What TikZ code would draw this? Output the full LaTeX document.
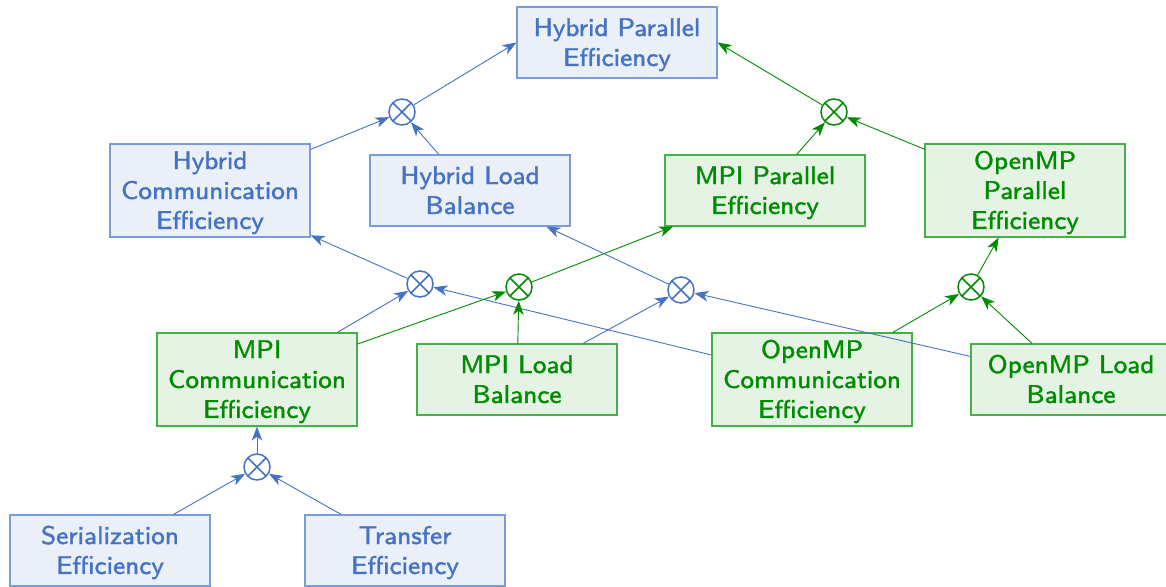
\documentclass[tikz,border=0pt]{standalone}
\usetikzlibrary{arrows.meta}
\usepackage{graphicx}
\definecolor{hblue}{RGB}{68,114,196}
\definecolor{hblueline}{RGB}{122,156,218}
\definecolor{hbluefill}{RGB}{234,239,248}
\definecolor{mgreen}{RGB}{0,140,0}
\definecolor{mgreenline}{RGB}{70,175,70}
\definecolor{mgreenfill}{RGB}{228,243,228}
% slightly heavier text: fill and stroke the glyph outlines
\newcommand\heavy[1]{\special{pdf:literal direct 2 Tr 0.1 w}#1\special{pdf:literal direct 0 Tr}}
\newcommand\boxtext[1]{\raisebox{-2.5pt}[\height][\depth]{\scalebox{3.2}{\fontsize{8}{9.35}\selectfont\sffamily\heavy{\begin{tabular}{@{}c@{}}#1\end{tabular}}}}}
\tikzset{
  metric/.style={rectangle, draw, line width=1.1pt, inner sep=0pt, minimum width=200pt},
  twoline/.style={minimum height=71pt},
  threeline/.style={minimum height=93pt},
  hybox/.style={metric, draw=hblueline, fill=hbluefill, text=hblue},
  gnbox/.style={metric, draw=mgreenline, fill=mgreenfill, text=mgreen},
  prod/.style={circle, draw, line width=1.5pt, minimum size=26pt, inner sep=0pt,
    path picture={\draw[line width=1.5pt]
      (path picture bounding box.north west) -- (path picture bounding box.south east)
      (path picture bounding box.north east) -- (path picture bounding box.south west);}},
  hyprod/.style={prod, draw=hblue},
  gnprod/.style={prod, draw=mgreen},
  link/.style={line width=0.9pt, -{Stealth[length=14pt, width=10.5pt, inset=4pt]}},
  hylink/.style={link, draw=hblue},
  gnlink/.style={link, draw=mgreen},
}
\begin{document}
\begin{tikzpicture}[x=1pt, y=-1pt]
  \useasboundingbox (0,0) rectangle (1166,586);

  % metric boxes
  \node[hybox, twoline]   (hpe) at (617,42.5)  {\boxtext{Hybrid Parallel\\Efficiency}};
  \node[hybox, threeline] (hce) at (210,190.5) {\boxtext{Hybrid\\Communication\\Efficiency}};
  \node[hybox, twoline]   (hlb) at (470,190.5) {\boxtext{Hybrid Load\\Balance}};
  \node[gnbox, twoline]   (mpe) at (765,190.5) {\boxtext{MPI Parallel\\Efficiency}};
  \node[gnbox, threeline] (ope) at (1025,190.5) {\boxtext{OpenMP\\Parallel\\Efficiency}};
  \node[gnbox, threeline] (mce) at (257,379.5) {\boxtext{MPI\\Communication\\Efficiency}};
  \node[gnbox, twoline]   (mlb) at (517,379.5) {\boxtext{MPI Load\\Balance}};
  \node[gnbox, threeline] (oce) at (812,379.5) {\boxtext{OpenMP\\Communication\\Efficiency}};
  \node[gnbox, twoline]   (olb) at (1071,379.5) {\boxtext{OpenMP Load\\Balance}};
  \node[hybox, twoline]   (ser) at (110,550.5) {\boxtext{Serialization\\Efficiency}};
  \node[hybox, twoline]   (tra) at (405,550.5) {\boxtext{Transfer\\Efficiency}};

  % product operators
  \node[hyprod] (xh)  at (402,112) {};
  \node[gnprod] (xg)  at (834,112) {};
  \node[hyprod] (xhc) at (420,284) {};
  \node[gnprod] (xm)  at (519,287) {};
  \node[hyprod] (xhl) at (681,290) {};
  \node[gnprod] (xo)  at (971,287) {};
  \node[hyprod] (xmc) at (257,467) {};

  % hybrid parallel efficiency
  \draw[hylink] (hce) -- (xh);
  \draw[hylink] (hlb) -- (xh);
  \draw[hylink] (xh) -- (hpe.west);
  \draw[gnlink] (mpe) -- (xg);
  \draw[gnlink] (ope) -- (xg);
  \draw[gnlink] (xg) -- (hpe.east);

  % hybrid communication efficiency
  \draw[hylink] (mce) -- (xhc);
  \draw[hylink] (oce) -- (xhc);
  \draw[hylink] (xhc) -- (hce);

  % MPI parallel efficiency
  \draw[gnlink] (mce) -- (xm);
  \draw[gnlink] (mlb) -- (xm);
  \draw[gnlink] (xm) -- (mpe);

  % hybrid load balance
  \draw[hylink] (mlb) -- (xhl);
  \draw[hylink] (olb) -- (xhl);
  \draw[hylink] (xhl) -- (hlb);

  % OpenMP parallel efficiency
  \draw[gnlink] (oce) -- (xo);
  \draw[gnlink] (olb) -- (xo);
  \draw[gnlink] (xo) -- (ope);

  % MPI communication efficiency
  \draw[hylink] (ser) -- (xmc);
  \draw[hylink] (tra) -- (xmc);
  \draw[hylink] (xmc) -- (mce);
\end{tikzpicture}
\end{document}
